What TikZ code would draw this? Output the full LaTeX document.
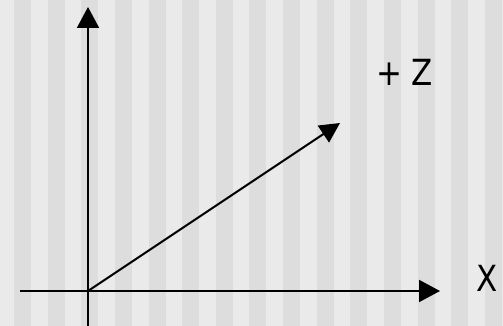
\documentclass[tikz,border=0pt]{standalone}
\usepackage{fontspec}
\setmainfont{DejaVu Sans}
\usetikzlibrary{arrows.meta}
\definecolor{stripeA}{HTML}{EAEAEA}
\definecolor{stripeB}{HTML}{DDDDDD}
\tikzset{
  axis/.style={line width=2pt, -{Triangle[width=22pt,length=21pt]}},
  lbl/.style={font=\fontsize{36}{40}\selectfont, inner sep=0pt, xscale=0.86, transform shape}
}
\begin{document}
\begin{tikzpicture}[x=1pt,y=-1pt]
\fill[stripeA] (0,0) rectangle (503,326);
\useasboundingbox (0,0) rectangle (503,326);
\foreach \i in {0,...,14} {
  \fill[stripeB] ({14+33.64*\i},0) rectangle ({31+33.64*\i},326);
}
\coordinate (o) at (88,291);
\coordinate (ybot) at (88,326);
\coordinate (ytop) at (88,7);
\coordinate (xl) at (20,291);
\coordinate (xr) at (440,291);
\coordinate (zt) at (340,123);
\draw[line width=2pt] (ybot) -- (o);
\draw[axis] (o) -- (ytop);
\draw[line width=2pt] (xl) -- (o);
\draw[axis] (o) -- (xr);
\draw[line width=2pt, -{Triangle[width=20pt,length=20pt]}] (o) -- (zt);
\node[lbl] (z) at (404.5,72) {+\kern0.3em Z};
\node[lbl] (x) at (487,278.5) {X};
\end{tikzpicture}
\end{document}
